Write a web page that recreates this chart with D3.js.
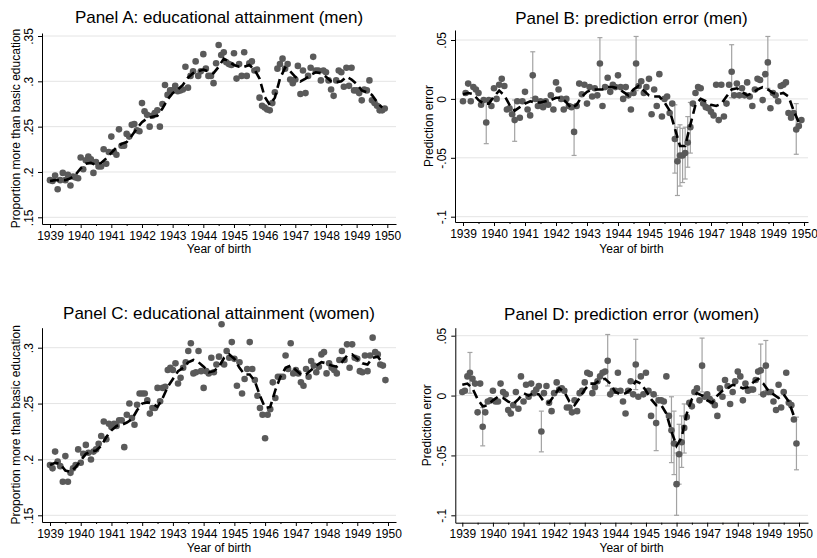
<!DOCTYPE html>
<html lang="en">
<head>
<meta charset="UTF-8">
<title>Educational attainment and prediction error</title>
<script src="https://d3js.org/d3.v7.min.js"></script>
<style>
    body { margin: 0; background: #fff; }
    svg text { font-family: "Liberation Sans", Arial, sans-serif; fill: #000; }
</style>
</head>
<body>
<script>
    // ---- data ----
    var years = [1939, 1940, 1941, 1942, 1943, 1944, 1945, 1946, 1947, 1948, 1949, 1950];
    var halfYears = [1939.5, 1940.5, 1941.5, 1942.5, 1943.5, 1944.5, 1945.5, 1946.5, 1947.5, 1948.5, 1949.5];

    var eduTicksA = [0.15, 0.2, 0.25, 0.3, 0.35];
    var eduLabelsA = [".15", ".2", ".25", ".3", ".35"];
    var eduTicksC = [0.15, 0.2, 0.25, 0.3];
    var eduLabelsC = [".15", ".2", ".25", ".3"];
    var errTicks = [-0.1, -0.05, 0, 0.05];
    var errLabels = ["-.1", "-.05", "0", ".05"];

    // monthly cohorts, jan 1939 .. dec 1949
    var months = d3.range(132).map(function (i) { return 1939 + i / 12; });
    // smoothed line read every two months
    var smoothX = d3.range(66).map(function (k) { return 1939 + k / 6; });

    // Panel A: share with more than basic education, men
    var eduMen = [
        .191,.190,.196,.181,.191,.199,.191,.197,.185,.195,.194,.193,
        .216,.203,.213,.217,.214,.199,.211,.206,.206,.225,.209,.222,
        .239,.222,.219,.247,.229,.229,.242,.239,.252,.253,.246,.245,
        .276,.267,.263,.250,.262,.265,.268,.250,.275,.296,.285,.290,
        .290,.295,.289,.290,.291,.316,.293,.306,.311,.322,.306,.311,
        .330,.314,.306,.306,.298,.320,.340,.329,.332,.321,.319,.318,
        .331,.303,.319,.306,.332,.306,.320,.322,.312,.313,.282,.273,
        .271,.269,.268,.276,.288,.314,.319,.325,.314,.319,.302,.298,
        .302,.317,.286,.312,.287,.306,.315,.327,.312,.312,.301,.312,
        .310,.301,.291,.284,.301,.312,.310,.294,.315,.295,.315,.290,
        .290,.287,.279,.291,.290,.301,.279,.276,.273,.268,.268,.270
    ];
    var eduMenSmooth = [
        .190,.191,.191,.191,.193,.197,
        .204,.209,.210,.208,.210,.215,
        .221,.227,.231,.233,.240,.248,
        .255,.259,.261,.262,.270,.280,
        .287,.291,.296,.304,.309,.311,
        .313,.311,.309,.316,.325,.322,
        .318,.316,.316,.318,.313,.303,
        .283,.274,.282,.303,.315,.311,
        .305,.300,.303,.307,.310,.309,
        .305,.300,.299,.300,.305,.302,
        .297,.290,.288,.285,.277,.271
    ];

    // Panel B: prediction error, men
    var errMen = [
        -.002,.005,.013,-.002,.010,.008,.005,-.005,-.001,-.020,-.001,-.006,
        .009,.000,.012,.017,.011,-.009,-.008,-.013,-.018,-.002,-.016,-.002,
        .006,-.009,-.014,.020,.000,-.006,-.002,-.007,-.002,-.005,.003,-.009,
        .014,.008,.000,-.009,.000,-.006,-.007,-.028,-.006,.013,.004,.012,
        -.004,.010,.002,.009,.003,.030,-.006,.010,.018,.006,.012,.010,
        .020,.010,.000,.010,.003,-.009,.005,.030,.011,.015,.005,.010,
        .017,-.013,.008,-.006,.021,-.015,.000,.002,-.012,-.004,-.034,-.053,
        -.048,-.048,-.046,-.037,-.024,-.004,.005,.010,.009,-.004,-.007,-.008,
        -.011,-.014,.012,-.018,.012,-.015,-.004,.012,.023,.003,.013,.003,
        .009,.003,.014,.002,-.006,.008,.017,.016,-.001,.021,.031,-.008,
        .005,.003,-.002,.011,.012,.014,-.012,-.016,-.012,-.026,-.023,-.018
    ];
    var errMenSmooth = [
        .004,.005,.004,-.001,-.004,-.004,
        .002,.007,.003,-.005,-.010,-.007,
        -.004,-.002,-.003,-.003,-.002,-.001,
        .001,.001,-.003,-.008,-.005,.002,
        .006,.008,.008,.008,.010,.010,
        .009,.006,.003,.008,.011,.007,
        .003,.002,.002,-.003,-.010,-.025,
        -.040,-.040,-.022,-.005,.000,-.002,
        -.005,-.006,-.004,.002,.008,.009,
        .006,.003,.005,.008,.010,.008,
        .005,.004,.005,.002,-.010,-.020
    ];
    // confidence intervals shown for some months (index into months)
    var ciMenIdx = [9, 20, 27, 43, 53, 67, 82, 83, 84, 85, 86, 87, 88, 104, 118, 129];
    var ciMenLo  = [-.038,-.036,.001,-.048,.008,.007,-.063,-.082,-.074,-.071,-.068,-.058,-.046,.001,.009,-.047];
    var ciMenHi  = [-.002,-.001,.040,-.008,.052,.053,-.005,-.024,-.022,-.025,-.024,-.015,-.003,.046,.053,-.004];

    // Panel C: share with more than basic education, women
    var eduWomen = [
        .195,.192,.207,.198,.194,.180,.203,.180,.188,.192,.195,.209,
        .197,.205,.213,.206,.200,.207,.209,.214,.221,.234,.218,.232,
        .229,.232,.230,.235,.235,.211,.240,.250,.237,.231,.249,.259,
        .259,.259,.253,.241,.246,.246,.264,.252,.264,.265,.280,.282,
        .280,.286,.268,.273,.282,.287,.297,.304,.277,.278,.297,.279,
        .264,.279,.277,.291,.278,.285,.292,.321,.285,.297,.291,.305,
        .290,.266,.287,.259,.272,.281,.305,.281,.271,.257,.246,.240,
        .219,.240,.245,.269,.255,.274,.274,.274,.293,.281,.304,.277,
        .280,.277,.269,.266,.281,.274,.288,.284,.278,.283,.294,.296,
        .277,.286,.282,.280,.277,.289,.297,.289,.303,.282,.303,.291,
        .290,.279,.278,.293,.279,.293,.309,.296,.294,.285,.284,.271
    ];
    var eduWomenSmooth = [
        .195,.197,.196,.190,.189,.193,
        .199,.205,.207,.208,.212,.220,
        .226,.230,.231,.233,.236,.244,
        .250,.251,.250,.247,.255,.265,
        .272,.279,.282,.287,.289,.287,
        .283,.278,.279,.283,.291,.294,
        .290,.282,.276,.276,.270,.257,
        .246,.247,.262,.274,.282,.284,
        .280,.276,.276,.280,.284,.287,
        .286,.284,.283,.287,.293,.294,
        .290,.286,.285,.291,.292,.286
    ];

    // Panel D: prediction error, women
    var errWomen = [
        .003,.004,.016,.019,.014,.010,-.014,.010,-.026,-.014,-.005,-.004,
        .004,-.005,-.005,.010,.003,.001,-.012,-.015,-.008,.003,-.011,.016,
        -.005,.009,-.001,.010,.002,.005,.008,-.030,.002,.008,-.006,-.013,
        .002,.011,.005,.006,.004,-.010,-.010,-.014,-.004,-.013,.002,.004,
        .011,.019,.018,.002,.007,.012,.016,.019,.020,.029,.001,.004,
        .004,.019,.004,-.005,-.015,.004,.012,.001,.026,-.001,.016,.001,
        .019,.004,-.017,.001,-.023,-.004,-.004,-.005,.016,-.017,-.029,-.040,
        -.074,-.049,-.039,-.027,-.018,-.006,-.009,.003,.006,-.004,.025,-.001,
        .001,-.003,-.005,-.008,-.017,.006,-.001,.013,.008,-.007,.003,.012,
        .020,.016,-.004,.010,.004,.005,.005,.013,.020,.021,.001,.025,
        .003,.003,-.005,-.012,.009,-.010,.003,.019,-.006,-.008,-.020,-.040
    ];
    var errWomenSmooth = [
        .009,.010,.006,-.003,-.009,-.008,
        -.004,-.001,-.002,-.005,-.007,-.003,
        .002,.000,.002,.001,-.005,-.006,
        .000,.006,.003,-.005,-.008,-.002,
        .005,.010,.010,.013,.014,.010,
        .003,.001,.002,.005,.012,.010,
        .004,-.003,-.008,-.008,-.015,-.030,
        -.042,-.035,-.015,-.003,.002,.000,
        -.004,-.006,.000,.004,.006,.009,
        .008,.006,.007,.011,.014,.010,
        .004,.001,-.002,.001,-.005,-.017
    ];
    var ciWomenIdx = [3, 8, 31, 57, 68, 76, 82, 83, 84, 85, 86, 87, 94, 117, 119, 131];
    var ciWomenLo  = [.002,-.042,-.047,.008,.005,-.046,-.056,-.066,-.100,-.074,-.060,-.048,.003,.001,.004,-.062];
    var ciWomenHi  = [.036,-.010,-.013,.051,.047,.000,-.001,-.013,-.048,-.024,-.017,-.007,.048,.043,.046,-.018];

    // ---- canvas ----
    var width = 817;
    var height = 558;
    var svg = d3.select("body")
        .append("svg")
        .attr("width", width)
        .attr("height", height);

    var pointColor = "#5a5a5a";
    var ciColor = "#a3a3a3";
    var gridColor = "#e4e4e4";

    function drawPanel(p) {
        var g = svg.append("g");

        // x: tick 1939 and 1950 positions, then stretch to plot edges
        var x = d3.scaleLinear().domain([1939, 1950]).range([p.x1939, p.x1950]);
        x.domain([x.invert(p.left), x.invert(p.right)]).range([p.left, p.right]);

        var t0 = p.yTicks[0], t1 = p.yTicks[p.yTicks.length - 1];
        var y = d3.scaleLinear().domain([t0, t1]).range([p.yPix0, p.yPix1]);
        y.domain([y.invert(p.bottom), y.invert(p.top)]).range([p.bottom, p.top]);

        // grid
        g.selectAll(".grid")
            .data(p.yTicks)
            .enter()
            .append("line")
            .attr("x1", p.left)
            .attr("x2", p.right)
            .attr("y1", function (d) { return y(d); })
            .attr("y2", function (d) { return y(d); })
            .attr("stroke", gridColor)
            .attr("stroke-width", 1);

        // confidence interval caps
        if (p.ciIdx) {
            var ci = p.ciIdx.map(function (idx, i) {
                return { x: months[idx], lo: p.ciLo[i], hi: p.ciHi[i] };
            });
            var cg = g.append("g")
                .attr("stroke", ciColor)
                .attr("stroke-width", 1.2)
                .attr("fill", "none");
            ci.forEach(function (c) {
                var cx = x(c.x);
                cg.append("line")
                    .attr("x1", cx).attr("x2", cx)
                    .attr("y1", y(c.lo)).attr("y2", y(c.hi));
                cg.append("line")
                    .attr("x1", cx - 2.5).attr("x2", cx + 2.5)
                    .attr("y1", y(c.lo)).attr("y2", y(c.lo));
                cg.append("line")
                    .attr("x1", cx - 2.5).attr("x2", cx + 2.5)
                    .attr("y1", y(c.hi)).attr("y2", y(c.hi));
            });
        }

        // points
        g.selectAll(".pt")
            .data(p.values)
            .enter()
            .append("circle")
            .attr("cx", function (d, i) { return x(months[i]); })
            .attr("cy", function (d) { return y(d); })
            .attr("r", 3.3)
            .style("fill", pointColor);

        // smoothed dashed line
        var line = d3.line()
            .x(function (d, i) { return x(smoothX[i]); })
            .y(function (d) { return y(d); });
        g.append("path")
            .datum(p.smooth)
            .attr("d", line)
            .attr("fill", "none")
            .attr("stroke", "#000")
            .attr("stroke-width", 2.6)
            .attr("stroke-dasharray", "9,5");

        // x axis
        var xAxis = d3.axisBottom(x)
            .tickValues(years)
            .tickSize(4)
            .tickSizeOuter(0)
            .tickPadding(3)
            .tickFormat(d3.format("d"));
        var xg = g.append("g")
            .attr("transform", "translate(0," + p.bottom + ")")
            .call(xAxis);
        xg.selectAll("text").style("font-size", "12px");

        var xMinor = d3.axisBottom(x)
            .tickValues(halfYears)
            .tickSize(2)
            .tickFormat("");
        var mg = g.append("g")
            .attr("transform", "translate(0," + p.bottom + ")")
            .call(xMinor);
        mg.select(".domain").remove();

        // y axis
        var yAxis = d3.axisLeft(y)
            .tickValues(p.yTicks)
            .tickSize(4)
            .tickSizeOuter(0)
            .tickFormat(function (d, i) { return p.yLabels[i]; });
        var yg = g.append("g")
            .attr("transform", "translate(" + p.left + ",0)")
            .call(yAxis);
        yg.selectAll("text")
            .attr("transform", "rotate(-90)")
            .attr("x", 0)
            .attr("y", -9)
            .attr("dy", 0)
            .attr("text-anchor", "middle")
            .style("font-size", "12px");

        g.selectAll(".domain, .tick line").attr("stroke", "#000");

        // titles
        g.append("text")
            .attr("x", (p.left + p.right) / 2)
            .attr("y", p.titleY)
            .attr("text-anchor", "middle")
            .style("font-size", "17px")
            .text(p.title);

        g.append("text")
            .attr("x", (p.left + p.right) / 2)
            .attr("y", p.xTitleY)
            .attr("text-anchor", "middle")
            .style("font-size", "12px")
            .text("Year of birth");

        g.append("text")
            .attr("transform", "translate(" + p.yTitleX + "," + ((p.top + p.bottom) / 2) + ") rotate(-90)")
            .attr("text-anchor", "middle")
            .style("font-size", "12px")
            .text(p.yTitle);
    }

    drawPanel({
        title: "Panel A: educational attainment (men)",
        yTitle: "Proportion more than basic education",
        values: eduMen, smooth: eduMenSmooth,
        yTicks: eduTicksA, yLabels: eduLabelsA,
        left: 42, right: 396, top: 33, bottom: 224,
        x1939: 50, x1950: 387.3, yPix0: 217.3, yPix1: 36,
        titleY: 23, xTitleY: 253, yTitleX: 19.5
    });

    drawPanel({
        title: "Panel B: prediction error (men)",
        yTitle: "Prediction error",
        values: errMen, smooth: errMenSmooth,
        ciIdx: ciMenIdx, ciLo: ciMenLo, ciHi: ciMenHi,
        yTicks: errTicks, yLabels: errLabels,
        left: 455, right: 808, top: 30, bottom: 222,
        x1939: 463, x1950: 804, yPix0: 216.7, yPix1: 40,
        titleY: 23.5, xTitleY: 253, yTitleX: 432.5
    });

    drawPanel({
        title: "Panel C: educational attainment (women)",
        yTitle: "Proportion more than basic education",
        values: eduWomen, smooth: eduWomenSmooth,
        yTicks: eduTicksC, yLabels: eduLabelsC,
        left: 42, right: 396, top: 327.7, bottom: 522,
        x1939: 50, x1950: 388, yPix0: 515.3, yPix1: 347.7,
        titleY: 319, xTitleY: 552, yTitleX: 19.5
    });

    drawPanel({
        title: "Panel D: prediction error (women)",
        yTitle: "Prediction error",
        values: errWomen, smooth: errWomenSmooth,
        ciIdx: ciWomenIdx, ciLo: ciWomenLo, ciHi: ciWomenHi,
        yTicks: errTicks, yLabels: errLabels,
        left: 455.3, right: 808, top: 327.7, bottom: 522.7,
        x1939: 462.3, x1950: 799, yPix0: 515.3, yPix1: 335.7,
        titleY: 320, xTitleY: 552, yTitleX: 430.5
    });
</script>
</body>
</html>
